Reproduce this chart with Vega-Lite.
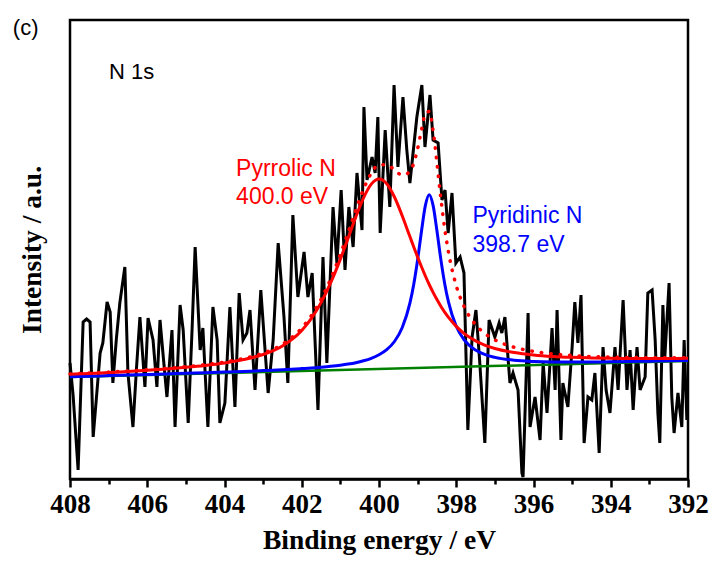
{
  "$schema": "https://vega.github.io/schema/vega-lite/v6.json",
  "width": 618,
  "height": 459,
  "autosize": {"type": "none"},
  "padding": {"left": 70, "top": 20, "right": 22, "bottom": 84},
  "background": "white",
  "config": {
    "view": {"stroke": "black", "strokeWidth": 2.5},
    "axis": {
      "grid": false,
      "labelFlush": false,
      "domainColor": "black",
      "domainWidth": 2.5,
      "tickColor": "black",
      "tickWidth": 2.5,
      "labelFont": "Liberation Serif",
      "labelFontWeight": "bold",
      "labelFontSize": 27,
      "labelColor": "black",
      "titleFont": "Liberation Serif",
      "titleFontWeight": "bold",
      "titleFontSize": 27.5,
      "titleColor": "black"
    }
  },
  "datasets": {
    "spectrum": [
      {"E":408.00,"v":116},{"E":407.92,"v":84},{"E":407.79,"v":9},{"E":407.66,"v":157},{"E":407.57,"v":160},{"E":407.48,"v":157},{"E":407.40,"v":42},{"E":407.22,"v":126},{"E":407.15,"v":136},{"E":407.04,"v":177},{"E":406.96,"v":167},{"E":406.89,"v":96},{"E":406.80,"v":140},{"E":406.71,"v":176},{"E":406.58,"v":212},{"E":406.50,"v":106},{"E":406.37,"v":52},{"E":406.28,"v":110},{"E":406.19,"v":162},{"E":406.06,"v":92},{"E":405.98,"v":161},{"E":405.85,"v":139},{"E":405.75,"v":92},{"E":405.67,"v":159},{"E":405.58,"v":120},{"E":405.49,"v":82},{"E":405.36,"v":149},{"E":405.28,"v":52},{"E":405.15,"v":174},{"E":405.07,"v":149},{"E":404.94,"v":56},{"E":404.84,"v":149},{"E":404.76,"v":232},{"E":404.63,"v":129},{"E":404.56,"v":151},{"E":404.43,"v":52},{"E":404.30,"v":172},{"E":404.19,"v":139},{"E":404.12,"v":56},{"E":403.99,"v":76},{"E":403.86,"v":172},{"E":403.73,"v":72},{"E":403.62,"v":186},{"E":403.52,"v":139},{"E":403.42,"v":146},{"E":403.34,"v":169},{"E":403.21,"v":89},{"E":403.06,"v":189},{"E":402.95,"v":129},{"E":402.87,"v":86},{"E":402.74,"v":139},{"E":402.61,"v":236},{"E":402.46,"v":162},{"E":402.36,"v":96},{"E":402.23,"v":264},{"E":402.10,"v":182},{"E":401.94,"v":227},{"E":401.84,"v":182},{"E":401.73,"v":206},{"E":401.58,"v":69},{"E":401.45,"v":222},{"E":401.35,"v":116},{"E":401.19,"v":272},{"E":401.09,"v":216},{"E":400.98,"v":289},{"E":400.88,"v":209},{"E":400.78,"v":272},{"E":400.67,"v":232},{"E":400.57,"v":306},{"E":400.44,"v":249},{"E":400.39,"v":372},{"E":400.31,"v":299},{"E":400.18,"v":322},{"E":400.10,"v":306},{"E":400.03,"v":362},{"E":399.97,"v":246},{"E":399.84,"v":349},{"E":399.72,"v":272},{"E":399.61,"v":394},{"E":399.51,"v":312},{"E":399.38,"v":382},{"E":399.28,"v":329},{"E":399.20,"v":296},{"E":399.02,"v":362},{"E":398.89,"v":394},{"E":398.81,"v":332},{"E":398.68,"v":384},{"E":398.60,"v":339},{"E":398.47,"v":336},{"E":398.37,"v":279},{"E":398.29,"v":289},{"E":398.21,"v":246},{"E":398.11,"v":286},{"E":398.01,"v":216},{"E":397.90,"v":222},{"E":397.80,"v":206},{"E":397.70,"v":49},{"E":397.59,"v":142},{"E":397.49,"v":169},{"E":397.39,"v":116},{"E":397.26,"v":36},{"E":397.15,"v":159},{"E":397.00,"v":142},{"E":396.89,"v":156},{"E":396.82,"v":146},{"E":396.74,"v":162},{"E":396.61,"v":96},{"E":396.53,"v":106},{"E":396.40,"v":89},{"E":396.30,"v":6},{"E":396.27,"v":2},{"E":396.14,"v":166},{"E":396.09,"v":52},{"E":395.96,"v":82},{"E":395.83,"v":39},{"E":395.75,"v":116},{"E":395.65,"v":66},{"E":395.52,"v":151},{"E":395.44,"v":89},{"E":395.39,"v":169},{"E":395.29,"v":39},{"E":395.24,"v":96},{"E":395.11,"v":72},{"E":395.00,"v":132},{"E":394.93,"v":177},{"E":394.85,"v":136},{"E":394.77,"v":184},{"E":394.69,"v":36},{"E":394.59,"v":82},{"E":394.49,"v":79},{"E":394.41,"v":106},{"E":394.30,"v":26},{"E":394.20,"v":132},{"E":394.12,"v":89},{"E":394.02,"v":66},{"E":393.89,"v":132},{"E":393.81,"v":89},{"E":393.68,"v":179},{"E":393.58,"v":89},{"E":393.50,"v":129},{"E":393.42,"v":69},{"E":393.32,"v":132},{"E":393.24,"v":89},{"E":393.11,"v":102},{"E":393.04,"v":186},{"E":392.93,"v":189},{"E":392.85,"v":139},{"E":392.78,"v":66},{"E":392.73,"v":36},{"E":392.65,"v":174},{"E":392.60,"v":122},{"E":392.49,"v":196},{"E":392.42,"v":82},{"E":392.36,"v":46},{"E":392.26,"v":86},{"E":392.16,"v":52},{"E":392.10,"v":139},{"E":392.03,"v":59}
    ],
    "bg": [
      {"E":408,"v":102},{"E":392,"v":118}
    ],
    "red": [
      {"E":408,"v":104.7},{"E":407.5,"v":105.5},{"E":407,"v":106.5},{"E":406.5,"v":107.5},{"E":406,"v":108.7},{"E":405.5,"v":110.1},{"E":405,"v":111.7},{"E":404.5,"v":113.6},{"E":404,"v":116.1},{"E":403.5,"v":119.5},{"E":403,"v":124.5},{"E":402.5,"v":133.1},{"E":402,"v":148.6},{"E":401.75,"v":160.7},{"E":401.5,"v":176.4},{"E":401.25,"v":196.3},{"E":401,"v":219.9},{"E":400.8,"v":240.8},{"E":400.6,"v":262.1},{"E":400.4,"v":281.2},{"E":400.2,"v":294.9},{"E":400,"v":300},{"E":399.8,"v":295.3},{"E":399.6,"v":282.0},{"E":399.4,"v":263.3},{"E":399.2,"v":242.4},{"E":399.1,"v":232.0},{"E":399.0,"v":221.9},{"E":398.9,"v":212.2},{"E":398.8,"v":203.0},{"E":398.7,"v":194.5},{"E":398.6,"v":186.6},{"E":398.5,"v":179.4},{"E":398.4,"v":172.8},{"E":398.3,"v":166.9},{"E":398.2,"v":161.6},{"E":398.0,"v":152.6},{"E":397.8,"v":145.6},{"E":397.5,"v":138.1},{"E":397.25,"v":133.7},{"E":397,"v":130.5},{"E":396.5,"v":126.5},{"E":396,"v":124.1},{"E":395.5,"v":122.6},{"E":395,"v":121.7},{"E":394.5,"v":121.1},{"E":394,"v":120.7},{"E":393.5,"v":120.5},{"E":393,"v":120.5},{"E":392.5,"v":120.5},{"E":392,"v":120.7}
    ],
    "blue": [
      {"E":408,"v":102.3},{"E":407.5,"v":102.8},{"E":407,"v":103.4},{"E":406.5,"v":103.9},{"E":406,"v":104.5},{"E":405.5,"v":105.1},{"E":405,"v":105.7},{"E":404.5,"v":106.3},{"E":404,"v":106.9},{"E":403.5,"v":107.6},{"E":403,"v":108.4},{"E":402.5,"v":109.3},{"E":402,"v":110.4},{"E":401.75,"v":111.0},{"E":401.5,"v":111.8},{"E":401.25,"v":112.7},{"E":401,"v":113.8},{"E":400.8,"v":114.9},{"E":400.6,"v":116.3},{"E":400.4,"v":118.2},{"E":400.2,"v":120.7},{"E":400,"v":124.2},{"E":399.8,"v":129.3},{"E":399.6,"v":137.5},{"E":399.4,"v":151.3},{"E":399.2,"v":175.8},{"E":399.1,"v":194.8},{"E":399.0,"v":219.3},{"E":398.9,"v":247.8},{"E":398.8,"v":273.4},{"E":398.7,"v":284.3},{"E":398.6,"v":273.6},{"E":398.5,"v":248.2},{"E":398.4,"v":219.9},{"E":398.3,"v":195.6},{"E":398.2,"v":176.8},{"E":398.0,"v":152.7},{"E":397.8,"v":139.3},{"E":397.5,"v":128.9},{"E":397.25,"v":124.3},{"E":397,"v":121.6},{"E":396.5,"v":118.7},{"E":396,"v":117.5},{"E":395.5,"v":117.0},{"E":395,"v":116.9},{"E":394.5,"v":117.0},{"E":394,"v":117.2},{"E":393.5,"v":117.5},{"E":393,"v":117.8},{"E":392.5,"v":118.2},{"E":392,"v":118.6}
    ],
    "env": [
      {"E":408,"v":105.0},{"E":407.5,"v":105.9},{"E":407,"v":106.9},{"E":406.5,"v":108.0},{"E":406,"v":109.2},{"E":405.5,"v":110.6},{"E":405,"v":112.3},{"E":404.5,"v":114.4},{"E":404,"v":117.0},{"E":403.5,"v":120.6},{"E":403,"v":125.9},{"E":402.5,"v":134.8},{"E":402,"v":151.0},{"E":401.75,"v":163.4},{"E":401.5,"v":179.7},{"E":401.25,"v":200.2},{"E":401,"v":224.7},{"E":400.8,"v":246.5},{"E":400.6,"v":269.0},{"E":400.4,"v":289.8},{"E":400.2,"v":305.8},{"E":400,"v":314.2},{"E":399.8,"v":314.4},{"E":399.6,"v":309.1},{"E":399.4,"v":303.9},{"E":399.2,"v":307.4},{"E":399.1,"v":315.9},{"E":399.0,"v":330.2},{"E":398.9,"v":348.9},{"E":398.8,"v":365.2},{"E":398.7,"v":367.5},{"E":398.6,"v":348.8},{"E":398.5,"v":316.1},{"E":398.4,"v":281.1},{"E":398.3,"v":250.8},{"E":398.2,"v":226.6},{"E":398.0,"v":193.3},{"E":397.8,"v":172.7},{"E":397.5,"v":154.4},{"E":397.25,"v":145.2},{"E":397,"v":139.1},{"E":396.5,"v":131.7},{"E":396,"v":127.6},{"E":395.5,"v":125.1},{"E":395,"v":123.5},{"E":394.5,"v":122.5},{"E":394,"v":121.9},{"E":393.5,"v":121.5},{"E":393,"v":121.3},{"E":392.5,"v":121.2},{"E":392,"v":121.3}
    ]
  },
  "resolve": {"axis": {"x": "independent"}},
  "layer": [
    {
      "data": {"name": "spectrum"},
      "mark": {"type": "line", "color": "black", "strokeWidth": 3, "strokeJoin": "miter"},
      "encoding": {
        "x": {"field": "E", "type": "quantitative",
          "scale": {"domain": [392, 408], "reverse": true, "nice": false, "zero": false},
          "axis": {"values": [408,406,404,402,400,398,396,394,392], "format": "d", "tickSize": 8, "labelPadding": 4, "labelFlush": false, "labelOverlap": false, "title": "Binding energy / eV", "titlePadding": 9, "orient": "bottom"}},
        "y": {"field": "v", "type": "quantitative",
          "scale": {"domain": [0, 459], "nice": false, "zero": false},
          "axis": {"title": "Intensity / a.u.", "labels": false, "ticks": false, "domain": false, "titlePadding": 24}}
      }
    },
    {
      "data": {"name": "env"},
      "mark": {"type": "line", "color": "#ff0000", "strokeWidth": 3.5, "strokeDash": [0.5, 9], "strokeCap": "round", "interpolate": "monotone"},
      "encoding": {
        "x": {"field": "E", "type": "quantitative",
          "axis": {"values": [407,405,403,401,399,397,395,393], "labels": false, "tickSize": 5, "domain": false, "title": null, "orient": "bottom"}},
        "y": {"field": "v", "type": "quantitative"}
      }
    },
    {
      "data": {"name": "bg"},
      "mark": {"type": "line", "color": "#008000", "strokeWidth": 2.5},
      "encoding": {
        "x": {"field": "E", "type": "quantitative", "axis": null},
        "y": {"field": "v", "type": "quantitative"}
      }
    },
    {
      "data": {"name": "blue"},
      "mark": {"type": "line", "color": "#0000ff", "strokeWidth": 3, "interpolate": "monotone"},
      "encoding": {
        "x": {"field": "E", "type": "quantitative", "axis": null},
        "y": {"field": "v", "type": "quantitative"}
      }
    },
    {
      "data": {"name": "red"},
      "mark": {"type": "line", "color": "#ff0000", "strokeWidth": 3, "interpolate": "monotone"},
      "encoding": {
        "x": {"field": "E", "type": "quantitative", "axis": null},
        "y": {"field": "v", "type": "quantitative"}
      }
    },
    {
      "data": {"values": [{"E": 406.99, "v": 400, "t": "N 1s"}, {"E": 409.48, "v": 444, "t": "(c)"}]},
      "mark": {"type": "text", "font": "Liberation Sans", "fontSize": 22, "color": "black", "align": "left", "baseline": "alphabetic"},
      "encoding": {
        "x": {"field": "E", "type": "quantitative", "axis": null},
        "y": {"field": "v", "type": "quantitative"},
        "text": {"field": "t"}
      }
    },
    {
      "data": {"values": [{"E": 403.70, "v": 303, "t": "Pyrrolic N"}, {"E": 403.70, "v": 275, "t": "400.0 eV"}]},
      "mark": {"type": "text", "font": "Liberation Sans", "fontSize": 23, "color": "#ff0000", "align": "left", "baseline": "alphabetic"},
      "encoding": {
        "x": {"field": "E", "type": "quantitative", "axis": null},
        "y": {"field": "v", "type": "quantitative"},
        "text": {"field": "t"}
      }
    },
    {
      "data": {"values": [{"E": 397.58, "v": 256, "t": "Pyridinic N"}, {"E": 397.58, "v": 227, "t": "398.7 eV"}]},
      "mark": {"type": "text", "font": "Liberation Sans", "fontSize": 23, "color": "#0000ff", "align": "left", "baseline": "alphabetic"},
      "encoding": {
        "x": {"field": "E", "type": "quantitative", "axis": null},
        "y": {"field": "v", "type": "quantitative"},
        "text": {"field": "t"}
      }
    }
  ]
}
